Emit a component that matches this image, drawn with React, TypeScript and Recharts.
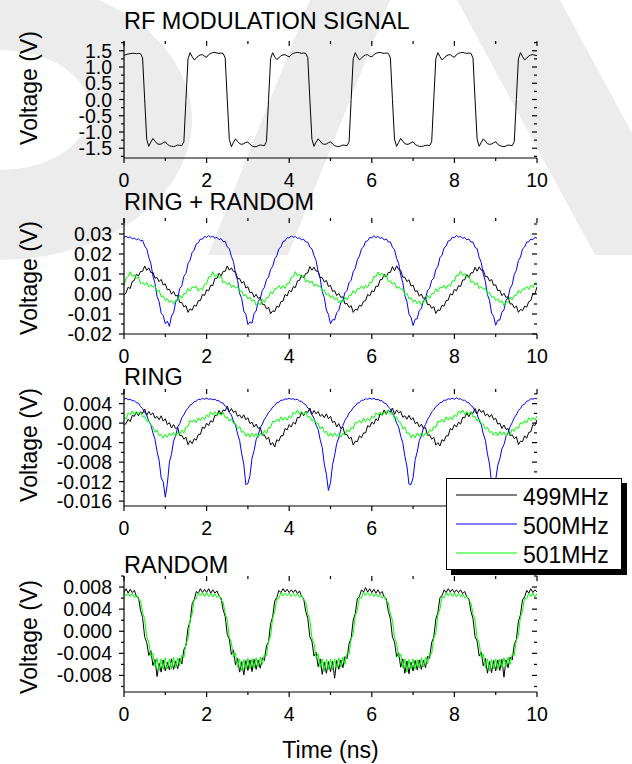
import React from 'react';
import { LineChart, Line, XAxis, YAxis } from 'recharts';

const FONT = '"Liberation Sans", Arial, Helvetica, sans-serif';

// every trace is sampled from 0 to 10 ns in 0.05 ns steps
const SAMPLE_STEP = 0.05;

const freqLabels = ['499MHz', '500MHz', '501MHz'];
const freqColors = ['#000000', '#0000ff', '#00ff00'];

const timeTicksMajor = [0, 2, 4, 6, 8, 10];
const timeTicksMinor = [1, 3, 5, 7, 9];

// RF MODULATION SIGNAL, volts
const rfSignal = [
  1.36, 1.38, 1.40, 1.41, 1.42, 1.42, 1.41, 1.42, 1.41, 1.28,
  0.02, -1.22, -1.44, -1.31, -1.20, -1.28, -1.36, -1.38, -1.37, -1.33,
  -1.30, -1.38, -1.42, -1.44, -1.45, -1.43, -1.40, -1.41, -1.42, -1.30,
  0.00, 1.25, 1.44, 1.32, 1.22, 1.27, 1.34, 1.37, 1.38, 1.33,
  1.30, 1.38, 1.42, 1.44, 1.45, 1.43, 1.42, 1.43, 1.42, 1.28,
  0.00, -1.23, -1.45, -1.32, -1.21, -1.29, -1.36, -1.38, -1.36, -1.32,
  -1.31, -1.38, -1.43, -1.45, -1.45, -1.42, -1.40, -1.41, -1.42, -1.29,
  0.00, 1.26, 1.44, 1.31, 1.23, 1.28, 1.35, 1.37, 1.38, 1.34,
  1.31, 1.38, 1.42, 1.44, 1.45, 1.44, 1.42, 1.43, 1.42, 1.29,
  0.01, -1.22, -1.44, -1.31, -1.21, -1.28, -1.36, -1.38, -1.37, -1.33,
  -1.30, -1.37, -1.42, -1.44, -1.45, -1.43, -1.40, -1.41, -1.42, -1.30,
  0.00, 1.25, 1.44, 1.32, 1.22, 1.27, 1.34, 1.37, 1.38, 1.33,
  1.31, 1.38, 1.42, 1.44, 1.45, 1.43, 1.42, 1.43, 1.42, 1.28,
  0.00, -1.22, -1.44, -1.32, -1.20, -1.28, -1.36, -1.38, -1.37, -1.33,
  -1.30, -1.38, -1.42, -1.44, -1.45, -1.43, -1.41, -1.41, -1.42, -1.30,
  0.00, 1.25, 1.44, 1.32, 1.22, 1.27, 1.34, 1.37, 1.38, 1.33,
  1.30, 1.38, 1.42, 1.44, 1.45, 1.43, 1.42, 1.43, 1.42, 1.28,
  0.00, -1.22, -1.44, -1.32, -1.21, -1.28, -1.36, -1.38, -1.37, -1.33,
  -1.30, -1.38, -1.42, -1.44, -1.45, -1.43, -1.40, -1.41, -1.42, -1.30,
  0.00, 1.25, 1.44, 1.32, 1.22, 1.27, 1.34, 1.37, 1.38, 1.36,
  1.35,
];

// RING + RANDOM, millivolts
const ringRandom499 = [
  -0.6, 0.6, 3.4, 2.7, 6.3, 6.8, 9.9, 9.0, 11.3, 11.3,
  14.0, 11.8, 13.1, 10.7, 10.9, 7.9, 8.2, 6.2, 7.3, 4.5,
  5.1, 2.1, 2.4, -0.1, 1.3, -1.0, -0.6, -4.3, -4.2, -6.5,
  -5.8, -9.2, -7.4, -8.1, -5.6, -6.1, -3.3, -3.3, -0.2, -0.8,
  2.1, 1.6, 4.4, 4.2, 7.8, 7.8, 10.4, 9.0, 11.3, 11.3,
  14.0, 11.9, 13.1, 11.2, 11.1, 7.7, 7.7, 5.4, 6.3, 3.0,
  3.6, 0.6, 0.9, -1.6, -0.2, -2.2, -1.6, -5.2, -5.2, -7.5,
  -6.6, -9.9, -8.4, -8.8, -6.1, -6.6, -3.8, -3.6, -0.2, -1.0,
  1.9, 1.1, 3.7, 3.2, 6.6, 6.8, 9.4, 8.0, 10.3, 10.5,
  13.7, 11.9, 13.4, 11.5, 11.4, 8.2, 8.2, 6.0, 6.8, 3.8,
  4.3, 1.3, 1.7, -0.8, 0.3, -1.7, -1.4, -5.0, -4.7, -6.7,
  -5.8, -9.2, -7.6, -8.1, -5.6, -6.1, -3.6, -3.3, -0.2, -1.0,
  1.6, 1.1, 3.9, 3.7, 7.1, 7.3, 9.9, 8.5, 10.8, 10.8,
  13.7, 11.6, 14.1, 12.2, 11.9, 8.4, 8.4, 6.2, 7.1, 4.0,
  4.4, 1.3, 1.6, -1.1, 0.0, -2.2, -1.8, -5.3, -5.2, -7.2,
  -6.3, -9.7, -7.9, -8.3, -5.6, -6.1, -3.3, -3.1, 0.1, -0.5,
  2.3, 1.6, 4.2, 3.7, 7.0, 7.1, 9.7, 8.3, 10.6, 10.6,
  13.4, 11.4, 13.6, 11.9, 11.9, 8.7, 8.7, 6.5, 7.3, 4.3,
  4.6, 1.6, 1.9, -0.8, 0.3, -1.7, -1.4, -5.0, -4.9, -7.0,
  -6.0, -9.2, -7.7, -8.3, -6.1, -6.6, -3.8, -3.3, 0.3, 0.0,
  3.6,
];

const ringRandom500 = [
  28.2, 28.9, 28.1, 28.6, 27.6, 28.0, 27.1, 27.6, 26.6, 26.9,
  24.0, 22.6, 18.4, 15.3, 9.0, 5.4, -1.2, -3.8, -9.6, -10.8,
  -14.8, -13.6, -16.2, -11.0, -9.4, -4.2, -2.3, 2.8, 4.1, 8.9,
  10.2, 15.2, 16.9, 20.8, 22.0, 25.1, 25.6, 27.5, 27.4, 28.8,
  28.3, 29.2, 28.4, 28.9, 27.9, 28.3, 27.2, 27.7, 26.2, 26.3,
  23.5, 22.7, 18.8, 16.2, 10.3, 6.9, 0.2, -2.2, -8.6, -10.1,
  -15.3, -13.9, -14.6, -9.8, -8.4, -3.8, -2.2, 1.8, 3.3, 7.2,
  8.4, 12.3, 13.8, 17.7, 19.0, 22.6, 23.5, 26.3, 26.6, 28.2,
  28.0, 29.1, 28.3, 28.7, 27.8, 28.1, 27.0, 27.4, 26.0, 25.9,
  23.4, 22.6, 19.3, 16.8, 11.2, 7.8, 1.2, -1.8, -8.0, -10.2,
  -14.9, -12.8, -13.0, -9.3, -8.3, -4.3, -3.2, 0.7, 1.8, 5.7,
  6.9, 11.2, 12.8, 17.2, 18.9, 22.6, 23.5, 26.3, 26.6, 28.3,
  28.0, 29.2, 28.2, 28.8, 27.8, 28.2, 27.0, 27.5, 26.0, 26.0,
  23.4, 22.2, 17.8, 15.3, 9.3, 5.8, -0.8, -3.7, -10.1, -11.7,
  -15.8, -12.6, -12.4, -8.2, -7.3, -3.3, -2.2, 1.7, 2.8, 6.8,
  7.9, 12.2, 13.8, 18.2, 19.4, 23.0, 24.0, 26.5, 26.8, 28.4,
  28.1, 29.3, 28.4, 28.9, 27.8, 28.3, 27.1, 27.5, 26.0, 26.0,
  23.3, 22.7, 18.3, 15.8, 9.8, 6.3, -0.3, -3.2, -9.6, -11.2,
  -15.6, -13.1, -13.0, -9.2, -7.9, -3.2, -1.8, 2.8, 4.7, 9.8,
  11.8, 16.7, 18.4, 22.6, 23.5, 26.0, 26.1, 27.5, 27.1, 28.4,
  27.8,
];

const ringRandom501 = [
  4.2, 8.0, 8.7, 11.2, 8.7, 9.7, 7.7, 8.6, 5.1, 5.8,
  4.4, 5.8, 3.5, 4.7, 3.4, 4.1, 1.3, 1.9, -1.3, -0.9,
  -3.3, -2.3, -4.3, -3.1, -5.1, -3.0, -3.3, -0.5, -2.2, 0.2,
  0.1, 2.8, 1.4, 3.6, 3.1, 3.9, 1.3, 2.9, 2.0, 4.9,
  5.0, 8.5, 8.7, 11.2, 8.7, 9.8, 8.1, 9.1, 5.6, 6.2,
  4.6, 5.8, 3.2, 4.4, 3.0, 3.6, 1.0, 1.7, -1.0, -0.2,
  -2.5, -1.5, -3.6, -2.8, -5.7, -4.5, -5.4, -2.7, -4.2, -1.8,
  -1.7, 1.1, 0.0, 2.6, 2.6, 4.3, 2.6, 4.2, 2.8, 5.4,
  5.2, 8.5, 8.7, 11.2, 8.9, 10.0, 8.2, 9.3, 6.1, 7.0,
  5.4, 6.6, 3.9, 5.0, 3.6, 4.1, 1.5, 2.1, -0.5, 0.3,
  -1.8, -0.8, -2.8, -1.8, -4.5, -3.1, -4.1, -1.5, -3.0, -0.6,
  -0.7, 1.8, 0.4, 2.7, 2.6, 4.1, 2.5, 4.4, 3.2, 5.9,
  5.7, 8.8, 8.7, 11.0, 9.2, 10.5, 8.7, 9.6, 6.1, 6.7,
  4.9, 5.8, 2.9, 3.7, 2.3, 2.6, -0.2, 0.4, -2.5, -1.9,
  -4.1, -3.0, -4.8, -3.5, -5.6, -3.3, -3.6, -0.7, -2.2, 0.2,
  0.1, 2.6, 1.2, 3.4, 3.0, 4.4, 2.6, 4.7, 3.8, 6.6,
  6.4, 9.5, 9.2, 11.4, 9.2, 10.3, 8.4, 9.3, 5.8, 6.4,
  4.6, 5.6, 2.7, 3.7, 2.3, 2.8, 0.1, 0.9, -1.8, -1.1,
  -3.3, -2.3, -4.3, -3.3, -5.8, -4.0, -4.4, -1.5, -3.0, -0.6,
  -0.7, 1.8, 0.4, 2.6, 2.3, 3.8, 2.3, 4.4, 3.2, 5.6,
  5.2,
];

// RING, millivolts
const ring499 = [
  -0.3, -0.1, 0.8, 0.3, 1.6, 1.4, 2.3, 1.5, 2.3, 2.0,
  2.9, 1.6, 2.4, 1.7, 2.1, 1.0, 1.4, 0.7, 1.5, 0.4,
  0.9, -0.3, 0.1, -1.0, -0.3, -1.1, -0.9, -2.6, -2.5, -3.3,
  -2.9, -4.4, -3.6, -4.2, -3.2, -3.5, -2.3, -2.3, -0.8, -1.1,
  0.0, -0.5, 0.5, 0.2, 1.6, 1.5, 2.6, 1.8, 2.7, 2.5,
  3.5, 2.3, 3.0, 2.2, 2.5, 1.4, 1.7, 1.0, 1.7, 0.7,
  1.1, -0.1, 0.2, -0.8, -0.2, -1.1, -0.9, -2.5, -2.4, -3.3,
  -2.9, -4.5, -4.0, -4.9, -3.4, -3.7, -2.6, -2.6, -1.1, -1.4,
  -0.3, -0.8, 0.2, -0.2, 1.2, 1.1, 2.2, 1.5, 2.4, 2.2,
  3.1, 1.8, 2.6, 1.9, 2.4, 1.4, 1.8, 1.1, 1.9, 0.9,
  1.4, 0.1, 0.4, -0.8, -0.1, -1.1, -0.8, -2.4, -2.3, -3.2,
  -2.9, -4.5, -3.7, -3.8, -2.6, -3.0, -2.0, -2.0, -0.5, -0.8,
  0.2, -0.2, 0.9, 0.5, 1.9, 1.7, 2.7, 1.8, 2.6, 2.3,
  3.1, 1.8, 2.7, 2.1, 2.4, 1.2, 1.5, 0.8, 1.6, 0.7,
  1.1, -0.1, 0.2, -0.8, -0.2, -1.1, -0.9, -2.5, -2.4, -3.3,
  -2.9, -4.5, -4.0, -4.7, -3.4, -3.7, -2.6, -2.6, -1.1, -1.4,
  -0.3, -0.8, 0.2, -0.2, 1.2, 1.1, 2.1, 1.3, 2.2, 2.0,
  3.0, 1.9, 2.9, 2.2, 2.6, 1.5, 1.9, 1.2, 1.8, 0.7,
  1.0, -0.2, 0.0, -1.1, -0.4, -1.3, -1.1, -2.6, -2.4, -3.2,
  -2.8, -4.4, -3.7, -3.8, -2.6, -3.1, -1.9, -1.8, -0.3, -0.5,
  0.7,
];

const ring500 = [
  4.9, 5.1, 4.8, 4.9, 4.6, 4.6, 4.2, 4.1, 3.4, 3.0,
  2.2, 1.6, 0.4, -0.3, -2.0, -3.3, -5.8, -7.6, -11.2, -12.1,
  -15.2, -12.4, -8.0, -6.4, -3.7, -2.6, -0.8, -0.1, 1.1, 1.7,
  2.6, 3.0, 3.7, 3.9, 4.4, 4.5, 4.9, 4.8, 5.1, 4.9,
  5.1, 4.9, 5.0, 4.8, 4.9, 4.6, 4.6, 4.2, 4.1, 3.5,
  3.1, 2.2, 1.7, 0.4, -0.4, -2.2, -3.6, -6.3, -8.4, -12.6,
  -12.4, -10.8, -7.2, -5.6, -3.4, -2.4, -0.9, -0.2, 0.8, 1.4,
  2.2, 2.6, 3.3, 3.6, 4.2, 4.3, 4.7, 4.7, 5.0, 4.9,
  5.1, 4.9, 5.0, 4.8, 4.9, 4.5, 4.5, 4.0, 3.8, 3.1,
  2.7, 1.7, 1.0, -0.4, -1.3, -3.4, -5.0, -8.4, -10.5, -13.8,
  -12.2, -8.5, -6.6, -4.2, -3.0, -1.3, -0.5, 0.6, 1.2, 2.1,
  2.5, 3.2, 3.5, 4.1, 4.2, 4.7, 4.7, 5.0, 4.9, 5.1,
  4.9, 5.1, 4.8, 4.9, 4.6, 4.6, 4.1, 4.0, 3.3, 2.9,
  2.0, 1.3, 0.0, -0.8, -2.7, -4.0, -6.8, -8.8, -12.5, -12.6,
  -11.2, -7.5, -5.9, -3.6, -2.6, -1.0, -0.3, 0.8, 1.4, 2.3,
  2.7, 3.4, 3.7, 4.2, 4.3, 4.7, 4.7, 5.0, 4.9, 5.1,
  4.9, 5.2, 4.9, 5.0, 4.7, 4.7, 4.3, 4.2, 3.6, 3.3,
  2.4, 1.8, 0.5, -0.3, -2.2, -3.5, -6.3, -8.4, -12.3, -12.5,
  -11.6, -8.7, -7.3, -5.3, -4.4, -2.8, -1.9, -0.7, 0.1, 1.1,
  1.7, 2.6, 3.0, 3.7, 3.9, 4.5, 4.6, 5.0, 4.9, 5.1,
  5.0,
];

const ring501 = [
  1.1, 0.8, 2.1, 1.7, 2.5, 1.7, 2.4, 1.8, 2.4, 1.3,
  1.5, 0.4, 0.6, -0.5, -0.7, -1.9, -1.4, -2.6, -2.3, -3.1,
  -2.3, -2.9, -2.0, -2.6, -1.9, -2.7, -1.9, -2.3, -1.4, -2.0,
  -0.8, -0.7, 0.6, 0.2, 0.7, 0.1, 1.1, 0.5, 1.2, 0.7,
  1.7, 1.2, 2.3, 1.7, 2.4, 1.5, 2.1, 1.6, 2.2, 1.1,
  1.3, 0.4, 0.9, -0.1, -0.1, -1.2, -0.7, -1.9, -1.7, -2.7,
  -2.1, -2.9, -2.0, -2.8, -2.1, -3.0, -2.1, -2.5, -1.5, -2.1,
  -0.9, -0.9, 0.4, 0.2, 0.8, 0.3, 1.3, 0.6, 1.2, 0.6,
  1.5, 1.1, 2.3, 1.9, 2.7, 1.8, 2.4, 1.7, 2.4, 1.2,
  1.4, 0.4, 0.9, 0.0, 0.0, -1.2, -0.7, -1.9, -1.7, -2.7,
  -2.0, -2.8, -2.0, -2.7, -2.1, -2.9, -2.1, -2.4, -1.3, -1.8,
  -0.9, -1.1, 0.2, 0.0, 0.6, 0.0, 1.0, 0.3, 1.0, 0.5,
  1.5, 1.0, 2.1, 1.6, 2.3, 1.5, 2.3, 1.9, 2.8, 1.8,
  2.0, 0.9, 1.3, 0.3, 0.1, -1.2, -0.8, -2.1, -2.0, -3.0,
  -2.3, -3.0, -2.0, -2.7, -2.0, -2.8, -2.0, -2.4, -1.3, -1.7,
  -0.7, -0.9, 0.4, 0.2, 0.8, 0.2, 1.3, 0.6, 1.3, 0.7,
  1.7, 1.3, 2.5, 2.0, 2.7, 1.8, 2.4, 1.7, 2.4, 1.2,
  1.4, 0.4, 0.9, -0.1, -0.2, -1.3, -0.8, -1.9, -1.7, -2.5,
  -1.8, -2.6, -1.7, -2.4, -1.8, -2.7, -2.0, -2.4, -1.2, -1.7,
  -0.8, -1.1, 0.1, -0.2, 0.5, 0.0, 1.1, 0.5, 1.1, 0.6,
  1.5,
];

// RANDOM, millivolts
const random499 = [
  7.0, 7.7, 6.9, 7.6, 7.0, 7.4, 6.3, 6.1, 3.8, 2.5,
  -1.0, -2.0, -4.4, -3.5, -6.2, -5.1, -8.2, -5.8, -7.4, -5.2,
  -7.2, -5.6, -7.0, -5.0, -6.9, -5.4, -6.8, -4.9, -5.9, -3.3,
  -2.6, 0.6, 1.7, 5.0, 5.7, 7.2, 6.9, 7.7, 7.0, 7.6,
  7.0, 7.7, 6.9, 7.5, 6.9, 7.3, 6.4, 6.0, 3.9, 2.7,
  -0.6, -1.4, -4.2, -3.4, -6.1, -4.9, -7.4, -5.5, -7.9, -5.3,
  -7.1, -5.2, -7.3, -5.1, -6.9, -5.2, -6.7, -4.8, -5.3, -2.6,
  -1.9, 1.4, 2.6, 5.5, 6.1, 7.4, 7.0, 7.7, 7.1, 7.6,
  7.0, 7.5, 7.0, 7.5, 6.8, 7.3, 6.3, 5.9, 3.6, 2.3,
  -1.0, -1.8, -4.5, -3.8, -6.4, -5.0, -7.8, -5.6, -7.6, -5.5,
  -7.3, -5.4, -8.5, -5.3, -6.9, -5.2, -6.6, -4.6, -5.0, -2.2,
  -1.3, 2.0, 3.2, 5.9, 6.3, 7.5, 7.1, 7.9, 7.1, 7.7,
  7.0, 7.6, 6.9, 7.5, 6.8, 7.2, 6.2, 5.9, 3.6, 2.3,
  -1.1, -1.9, -4.6, -3.9, -6.5, -5.0, -7.6, -5.4, -7.7, -5.6,
  -7.2, -5.3, -7.0, -5.2, -6.9, -5.2, -6.6, -4.5, -4.9, -2.0,
  -1.1, 2.2, 3.4, 6.1, 6.4, 7.5, 7.0, 7.7, 7.1, 7.6,
  7.0, 7.5, 7.0, 7.5, 6.8, 7.2, 6.2, 5.9, 3.6, 2.3,
  -1.0, -1.8, -4.5, -3.8, -6.3, -4.9, -7.6, -5.5, -7.5, -5.3,
  -7.2, -5.2, -7.1, -5.1, -8.3, -5.2, -6.6, -4.7, -5.2, -2.4,
  -1.5, 1.8, 3.0, 5.7, 6.2, 7.4, 6.9, 7.7, 7.0, 7.5,
  7.1,
];

const random501 = [
  6.9, 6.4, 6.8, 6.3, 6.9, 6.1, 6.6, 5.8, 5.5, 3.4,
  2.3, -1.0, -2.0, -4.6, -4.0, -6.4, -4.9, -7.1, -5.0, -6.9,
  -4.8, -6.8, -5.0, -6.9, -4.7, -6.6, -4.8, -6.2, -4.3, -4.8,
  -2.2, -1.4, 2.0, 3.1, 5.7, 5.9, 7.0, 6.4, 7.0, 6.3,
  7.0, 6.3, 6.9, 6.2, 6.8, 6.1, 6.5, 5.6, 5.3, 3.2,
  2.1, -1.1, -2.0, -4.7, -4.0, -6.5, -5.0, -7.2, -5.1, -6.9,
  -4.9, -6.8, -5.0, -6.7, -4.8, -6.5, -4.7, -6.0, -4.1, -4.4,
  -1.8, -0.9, 2.4, 3.5, 5.9, 5.9, 7.0, 6.4, 6.9, 6.4,
  6.9, 6.3, 6.8, 6.3, 6.8, 6.1, 6.5, 5.6, 5.3, 3.2,
  2.0, -1.2, -2.1, -4.8, -4.1, -6.6, -5.0, -7.3, -5.1, -6.9,
  -5.0, -7.0, -5.0, -6.7, -4.8, -6.5, -4.7, -6.0, -4.0, -4.2,
  -1.4, -0.5, 2.8, 3.8, 6.1, 6.0, 7.1, 6.5, 7.0, 6.4,
  6.9, 6.3, 6.8, 6.2, 6.7, 6.0, 6.4, 5.5, 5.2, 3.1,
  2.0, -1.2, -2.1, -4.8, -4.1, -6.6, -5.0, -7.4, -5.1, -6.8,
  -5.0, -6.9, -5.1, -6.7, -4.8, -6.5, -4.7, -5.9, -3.9, -4.1,
  -1.3, -0.3, 3.0, 4.0, 6.2, 6.0, 7.0, 6.4, 7.0, 6.3,
  6.9, 6.2, 6.9, 6.2, 6.7, 6.0, 6.4, 5.5, 5.2, 3.1,
  2.0, -1.2, -2.1, -4.8, -4.1, -6.6, -5.0, -7.2, -5.1, -6.8,
  -5.0, -6.9, -5.0, -6.6, -4.8, -6.4, -4.7, -6.0, -4.1, -4.4,
  -1.6, -0.7, 2.6, 3.6, 6.0, 5.9, 6.9, 6.3, 6.9, 6.2,
  6.8,
];

// y-axis ticks of each panel (panel 1 in V, the others in mV)
const rfTicksMajor = [-1.5, -1, -0.5, 0, 0.5, 1, 1.5];
const rfTicksMinor = [-1.75, -1.25, -0.75, -0.25, 0.25, 0.75, 1.25, 1.75];
const ringRandomTicksMajor = [-20, -10, 0, 10, 20, 30];
const ringRandomTicksMinor = [-15, -5, 5, 15, 25, 35];
const ringTicksMajor = [-16, -12, -8, -4, 0, 4];
const ringTicksMinor = [-14, -10, -6, -2, 2, 6];
const randomTicksMajor = [-8, -4, 0, 4, 8];
const randomTicksMinor = [-10, -6, -2, 2, 6, 10];

const PLOT_LEFT = 124;
const PLOT_RIGHT = 537;
const PAD_TOP = 10;
const X_AXIS_H = 36;
const TICK_FONT = 19.5;
const TITLE_FONT = 23.5;

const panels = [
  {
    title: 'RF MODULATION SIGNAL', top: 41, height: 117, titleY: 28.5, labelY: 88,
    domain: [-1.8, 1.8], major: rfTicksMajor, minor: rfTicksMinor, hiddenTimeLabels: [] as number[],
    format: (v: number) => v.toFixed(1),
    series: [{ name: 'RF', color: '#000000', values: rfSignal }],
  },
  {
    title: 'RING + RANDOM', top: 218, height: 116, titleY: 210, labelY: 278,
    domain: [-20, 38], major: ringRandomTicksMajor, minor: ringRandomTicksMinor, hiddenTimeLabels: [] as number[],
    format: (v: number) => (v / 1000).toFixed(2),
    series: [ringRandom499, ringRandom500, ringRandom501].map((values, k) => ({ name: freqLabels[k], color: freqColors[k], values })),
  },
  {
    // the legend box sits over the last two time labels of this panel
    title: 'RING', top: 389, height: 117, titleY: 385, labelY: 445,
    domain: [-17, 7], major: ringTicksMajor, minor: ringTicksMinor, hiddenTimeLabels: [8, 10],
    format: (v: number) => (v / 1000).toFixed(3),
    series: [ring499, ring500, ring501].map((values, k) => ({ name: freqLabels[k], color: freqColors[k], values })),
  },
  {
    title: 'RANDOM', top: 576, height: 116, titleY: 573, labelY: 637,
    domain: [-11, 10], major: randomTicksMajor, minor: randomTicksMinor, hiddenTimeLabels: [] as number[],
    format: (v: number) => (v / 1000).toFixed(3),
    series: [random499, random501].map((values, k) => ({ name: freqLabels[k * 2], color: freqColors[k * 2], values })),
  },
];

const isIn = (list: number[], v: number) => list.some((m) => Math.abs(m - v) < 1e-9);

const Panel = ({ p }: { p: any }) => {
  const bottom = PAD_TOP + p.height;
  const rows = p.series[0].values.map((_: number, i: number) => {
    const row: any = { t: Math.round(i * SAMPLE_STEP * 100) / 100 };
    p.series.forEach((s: any, k: number) => { row['s' + k] = s.values[i]; });
    return row;
  });

  const yTick = (props: any) => {
    const { y, payload } = props;
    const major = isIn(p.major, payload.value);
    const len = major ? 5 : 3;
    return (
      <g>
        <line x1={PLOT_LEFT} x2={PLOT_LEFT - len} y1={y} y2={y} stroke="#000" strokeWidth={1.2} />
        <line x1={PLOT_RIGHT} x2={PLOT_RIGHT - len} y1={y} y2={y} stroke="#000" strokeWidth={1.2} />
        {major && (
          <text x={PLOT_LEFT - 12} y={y + 7} textAnchor="end" fontFamily={FONT} fontSize={TICK_FONT} fill="#000">
            {p.format(payload.value)}
          </text>
        )}
      </g>
    );
  };

  const xTick = (props: any) => {
    const { x, payload } = props;
    const major = isIn(timeTicksMajor, payload.value);
    const len = major ? 5 : 3;
    const showLabel = major && !isIn(p.hiddenTimeLabels, payload.value);
    return (
      <g>
        <line x1={x} x2={x} y1={bottom} y2={bottom + len} stroke="#000" strokeWidth={1.2} />
        <line x1={x} x2={x} y1={PAD_TOP} y2={PAD_TOP + len} stroke="#000" strokeWidth={1.2} />
        {showLabel && (
          <text x={x} y={bottom + 29} textAnchor="middle" fontFamily={FONT} fontSize={TICK_FONT} fill="#000">
            {payload.value}
          </text>
        )}
      </g>
    );
  };

  return (
    <div style={{ position: 'absolute', left: 0, top: p.top - PAD_TOP, zIndex: 1 }}>
      <LineChart width={632} height={PAD_TOP + p.height + X_AXIS_H} data={rows}
        margin={{ top: PAD_TOP, right: 632 - PLOT_RIGHT, bottom: 0, left: PLOT_LEFT - 60 }}>
        <XAxis dataKey="t" type="number" domain={[0, 10]} ticks={[...timeTicksMajor, ...timeTicksMinor]}
          interval={0} tick={xTick} tickLine={false} axisLine={{ stroke: '#000', strokeWidth: 1.2 }}
          height={X_AXIS_H} allowDataOverflow />
        <XAxis xAxisId="top" orientation="top" type="number" domain={[0, 10]} tick={false} tickLine={false}
          axisLine={{ stroke: '#000', strokeWidth: 1.2 }} height={0} />
        <YAxis type="number" domain={p.domain} ticks={[...p.major, ...p.minor]} interval={0} tick={yTick}
          tickLine={false} axisLine={{ stroke: '#000', strokeWidth: 1.2 }} width={60} allowDataOverflow />
        <YAxis yAxisId="right" orientation="right" type="number" domain={p.domain} tick={false} tickLine={false}
          axisLine={{ stroke: '#000', strokeWidth: 1.2 }} width={0} />
        {p.series.map((s: any, k: number) => (
          <Line key={s.name} type="linear" dataKey={'s' + k} name={s.name} stroke={s.color} strokeWidth={1}
            dot={false} activeDot={false} isAnimationActive={false} />
        ))}
      </LineChart>
    </div>
  );
};

export default function App() {
  return (
    <div style={{ position: 'absolute', left: 0, top: 0, width: 632, height: 764, background: '#fff', overflow: 'hidden' }}>
      <svg width={632} height={764} style={{ position: 'absolute', left: 0, top: 0, zIndex: 0 }}>
        {/* faint watermark letters behind the figure */}
        <g fill="#ececec">
          <path fillRule="evenodd" d="M0,-20 A192,140 0 0 1 0,260 Z M0,50 A90,60 0 0 1 0,170 Z" />
          <polygon points="310,0 390,0 288,255 208,255" />
          <polygon points="457,0 560,0 698,255 595,255" />
        </g>
        {panels.map((p) => (
          <g key={p.title} fontFamily={FONT} fill="#000">
            <text x={PLOT_LEFT} y={p.titleY} fontSize={TITLE_FONT}>{p.title}</text>
            <text transform={`translate(37, ${p.labelY}) rotate(-90)`} textAnchor="middle" fontSize={23}>Voltage (V)</text>
          </g>
        ))}
        <text x={(PLOT_LEFT + PLOT_RIGHT) / 2} y={758} textAnchor="middle" fontFamily={FONT} fontSize={23}>Time (ns)</text>
      </svg>
      {panels.map((p) => <Panel key={p.title} p={p} />)}
      <div style={{ position: 'absolute', left: 446, top: 478, width: 174, height: 90, border: '1px solid #000', background: '#fff', boxShadow: '5px 5px 0 #000', zIndex: 3 }}>
        <svg width={174} height={90} style={{ display: 'block' }}>
          {freqLabels.map((name, k) => (
            <g key={name}>
              <line x1={9} x2={70} y1={16 + 29 * k} y2={16 + 29 * k} stroke={freqColors[k]} strokeWidth={1.2} />
              <text x={76} y={26 + 29 * k} fontFamily={FONT} fontSize={23} fill="#000">{name}</text>
            </g>
          ))}
        </svg>
      </div>
    </div>
  );
}
